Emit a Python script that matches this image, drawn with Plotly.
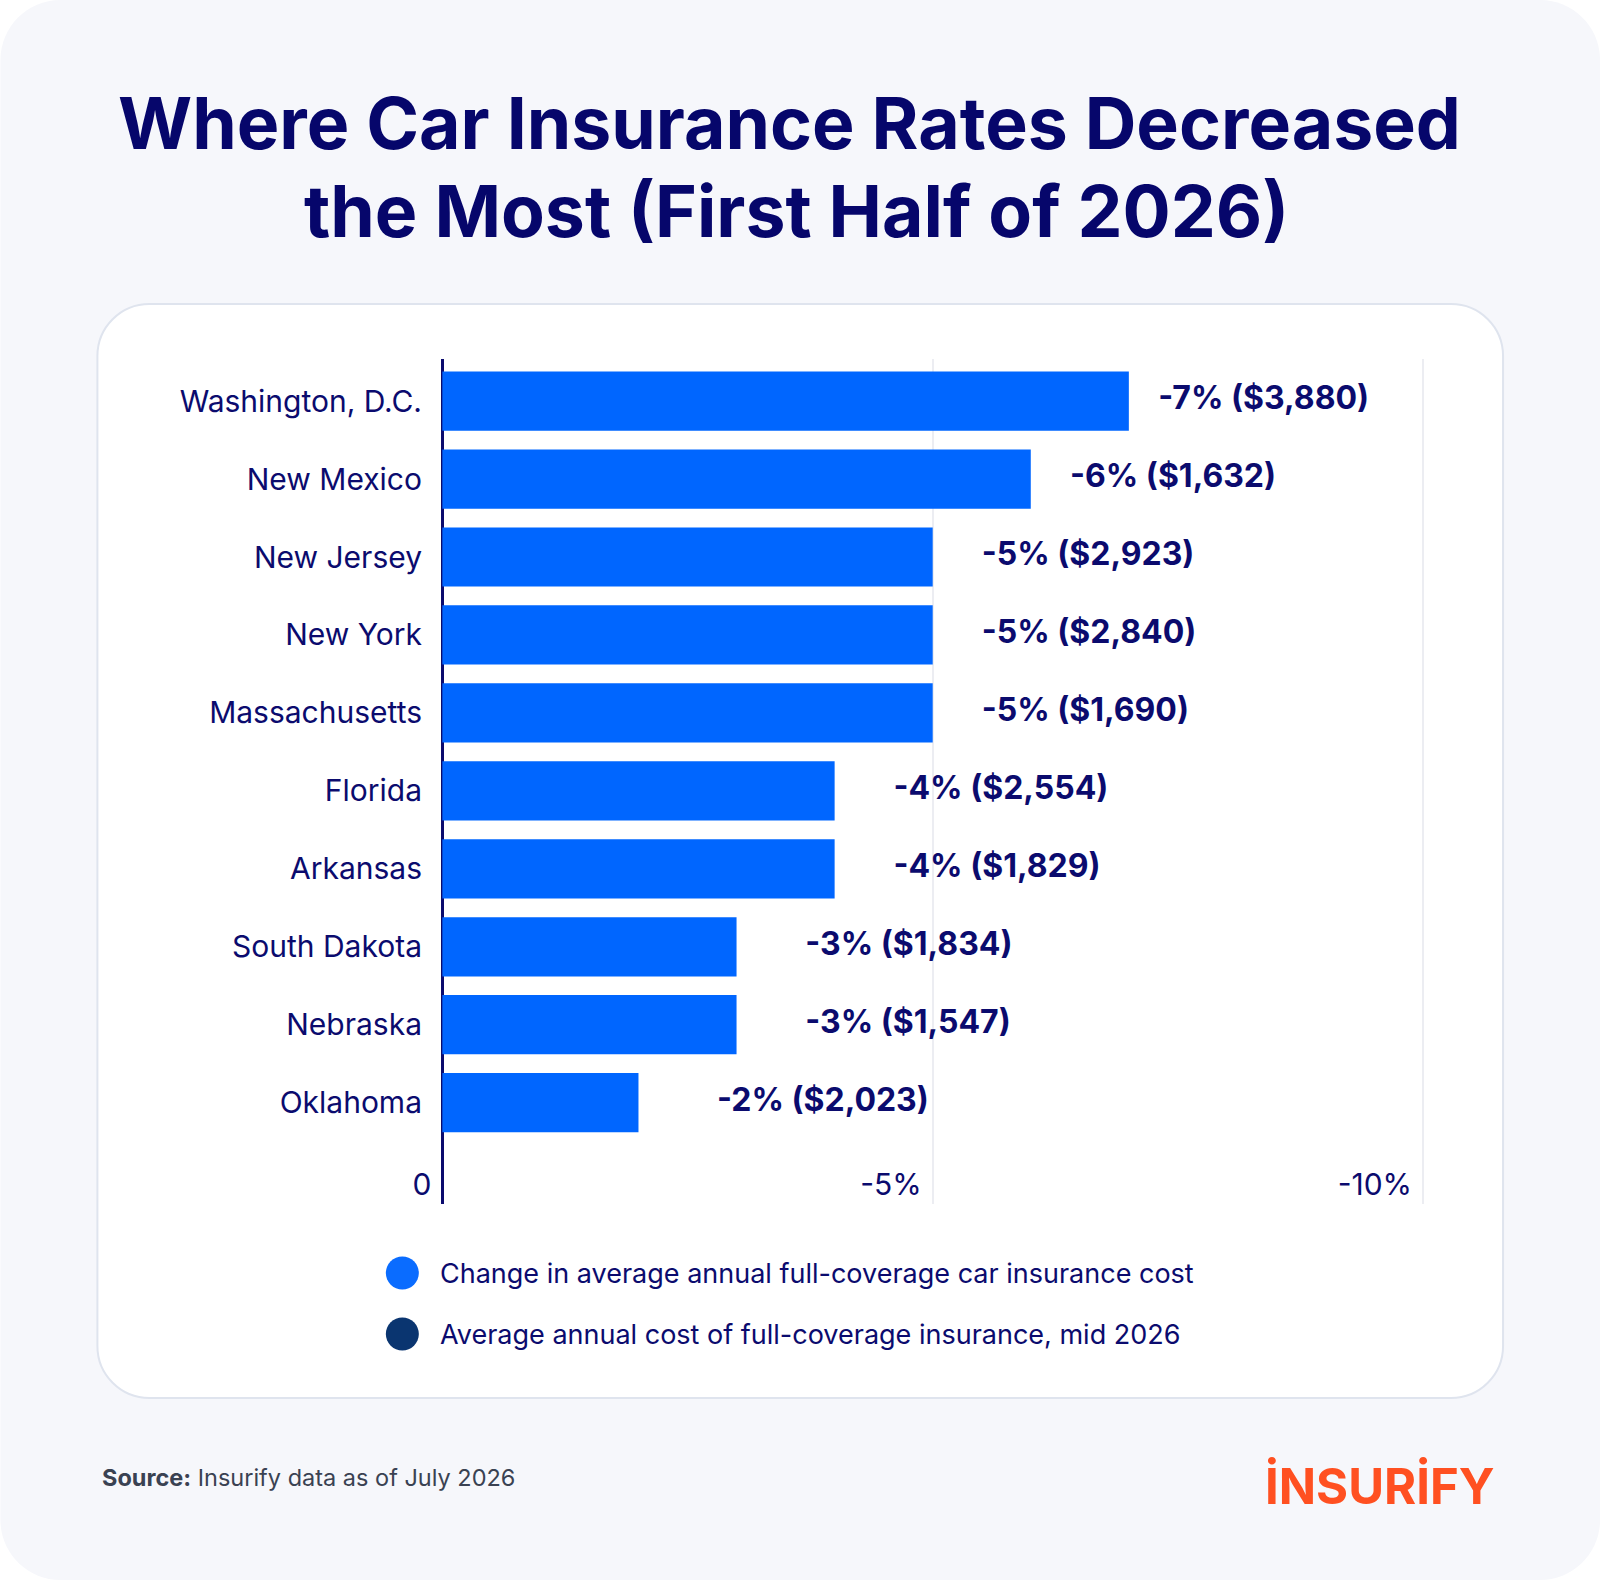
import plotly.graph_objects as go

states = ["Washington, D.C.", "New Mexico", "New Jersey", "New York", "Massachusetts",
          "Florida", "Arkansas", "South Dakota", "Nebraska", "Oklahoma"]
change_pct = [-7, -6, -5, -5, -5, -4, -4, -3, -3, -2]
avg_cost = [3880, 1632, 2923, 2840, 1690, 2554, 1829, 1834, 1547, 2023]
tick_vals = [0, -5, -10]
tick_text = ["0", "-5%", "-10%"]
legend_labels = ["Change in average annual full-coverage car insurance cost",
                 "Average annual cost of full-coverage insurance, mid 2026"]
title_lines = ["Where Car Insurance Rates Decreased", "the Most (First Half of 2026)"]

W, H = 1600, 1580
X_LO, X_HI = 0.35, -10.04
UNIT = 98.1
L = 442 - X_LO * UNIT
R = W - (1423 + (-10 - X_HI) * UNIT)
T, B = 359, 376
PW, PH = W - L - R, H - T - B

NAVY = "#0B0B6E"
BLUE = "#0066FF"
FONT = "Inter"


def px(x):
    return (x - L) / PW


def py(y):
    return (H - B - y) / PH


def rrect(x0, y0, x1, y1, r):
    k = 0.5523 * r
    pts = [
        f"M {px(x0 + r)},{py(y0)}",
        f"L {px(x1 - r)},{py(y0)}",
        f"C {px(x1 - r + k)},{py(y0)} {px(x1)},{py(y0 + r - k)} {px(x1)},{py(y0 + r)}",
        f"L {px(x1)},{py(y1 - r)}",
        f"C {px(x1)},{py(y1 - r + k)} {px(x1 - r + k)},{py(y1)} {px(x1 - r)},{py(y1)}",
        f"L {px(x0 + r)},{py(y1)}",
        f"C {px(x0 + r - k)},{py(y1)} {px(x0)},{py(y1 - r + k)} {px(x0)},{py(y1 - r)}",
        f"L {px(x0)},{py(y0 + r)}",
        f"C {px(x0)},{py(y0 + r - k)} {px(x0 + r - k)},{py(y0)} {px(x0 + r)},{py(y0)}",
        "Z",
    ]
    return " ".join(pts)


fig = go.Figure()
fig.add_trace(go.Bar(
    x=change_pct, y=states, orientation="h",
    marker=dict(color=BLUE, line=dict(width=0)),
    width=0.76, hoverinfo="skip", showlegend=False,
))

labels = [f"{c}% (${v:,})" for c, v in zip(change_pct, avg_cost)]
fig.add_trace(go.Scatter(
    x=[c * 0.9 - 1.0 for c in change_pct], y=states, mode="text",
    text=labels, textposition="middle right",
    textfont=dict(family=FONT, size=32, color=NAVY, weight=700),
    hoverinfo="skip", showlegend=False, cliponaxis=False,
))

shapes = [
    dict(type="path", xref="paper", yref="paper", path=rrect(0, 0, W, H, 60),
         fillcolor="#F6F7FB", line=dict(width=0), layer="below"),
    dict(type="path", xref="paper", yref="paper", path=rrect(97, 304, 1503, 1398, 52),
         fillcolor="#FFFFFF", line=dict(color="#DFE4EE", width=2), layer="below"),
]
legend_colors = ["#0A6CFF", "#0A3570"]
legend_y = [1273, 1334]
annotations = []
for col, yy, lab in zip(legend_colors, legend_y, legend_labels):
    shapes.append(dict(type="circle", xref="paper", yref="paper",
                       x0=px(402 - 16.5), x1=px(402 + 16.5), y0=py(yy + 16.5), y1=py(yy - 16.5),
                       fillcolor=col, line=dict(width=0)))
    annotations.append(dict(xref="paper", yref="paper", x=px(438), y=py(yy),
                            xanchor="left", yanchor="middle", showarrow=False, text=lab,
                            font=dict(family=FONT, size=27, color=NAVY)))

for line, xx, yy in zip(title_lines, [789, 796], [123, 211]):
    annotations.append(dict(xref="paper", yref="paper", x=px(xx), y=py(yy),
                            xanchor="center", yanchor="middle", showarrow=False,
                            text=line,
                            font=dict(family=FONT, size=71.5, color="#06066B", weight=700)))
annotations.append(dict(xref="paper", yref="paper", x=px(100), y=py(1477),
                        xanchor="left", yanchor="middle", showarrow=False,
                        text="<b>Source:</b> Insurify data as of July 2026",
                        font=dict(family=FONT, size=23.5, color="#3A4252")))
annotations.append(dict(xref="paper", yref="paper", x=px(1497), y=py(1486),
                        xanchor="right", yanchor="middle", showarrow=False,
                        text="İNSURİFY",
                        font=dict(family=FONT, size=49, color="#FF5021", weight=700)))

fig.update_layout(
    width=W, height=H,
    margin=dict(l=L, r=R, t=T, b=B, pad=0),
    paper_bgcolor="#FFFFFF", plot_bgcolor="rgba(0,0,0,0)",
    shapes=shapes, annotations=annotations,
    xaxis=dict(range=[X_LO, X_HI], tickvals=tick_vals, ticktext=tick_text,
               showgrid=True, gridcolor="#ECEDF2", gridwidth=2,
               zeroline=True, zerolinecolor=NAVY, zerolinewidth=3,
               showline=False, ticks="", ticklabelposition="inside left",
               ticklabelshift=11, ticklabelstandoff=-3,
               tickfont=dict(family=FONT, size=30, color=NAVY), fixedrange=True),
    yaxis=dict(categoryorder="array", categoryarray=states, range=[10.3, -0.54],
               showgrid=False, zeroline=False, showline=False,
               ticks="", ticklabelstandoff=-15,
               tickfont=dict(family=FONT, size=30, color=NAVY), fixedrange=True),
    font=dict(family=FONT, color=NAVY),
)

fig.write_html("out.html", config={"displayModeBar": False},
               post_script="document.body.style.margin='0';")
